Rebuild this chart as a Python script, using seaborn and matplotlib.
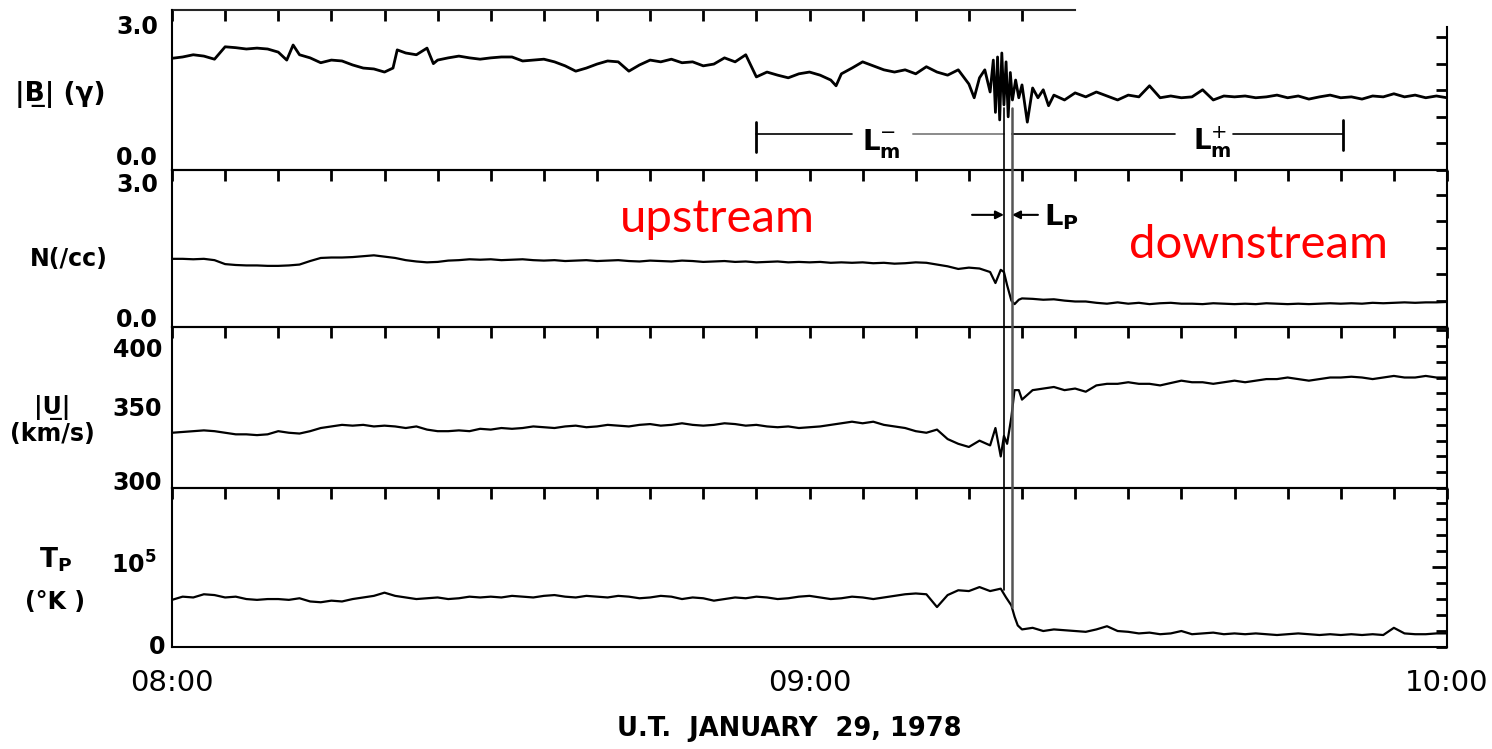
import matplotlib
matplotlib.use("Agg")
import matplotlib.pyplot as plt
import matplotlib.transforms as mtransforms
from matplotlib.lines import Line2D
from matplotlib.ticker import FuncFormatter, NullFormatter
import numpy as np
import seaborn as sns

sns.set_theme(style="white")
plt.rcParams["font.family"] = ["DejaVu Sans"]
plt.rcParams["mathtext.fontset"] = "dejavusans"
plt.rcParams["text.color"] = "black"
plt.rcParams["axes.labelcolor"] = "black"
plt.rcParams["xtick.color"] = "black"
plt.rcParams["ytick.color"] = "black"

# ---------------------------------------------------------------------------
# Solar-wind observations, 08:00-10:00 UT, 29 January 1978
# time is given in minutes after 08:00
# ---------------------------------------------------------------------------
b_time = [0, 1, 2, 3, 4, 5, 6, 7, 8, 9, 10, 10.8, 11.4, 12, 13, 14, 15, 16, 17, 18,
          19, 20, 20.8, 21.2, 22, 23, 24, 24.6, 25, 26, 27, 28, 29, 30, 31, 32, 33,
          34, 35, 36, 37, 38, 39, 40, 41, 42, 43, 44, 45, 46, 47, 48, 49, 50, 51,
          52, 53, 54, 55, 56, 57, 58, 59, 60, 61, 62, 62.5, 63, 64, 65, 66, 67, 68,
          69, 70, 71, 72, 73, 74, 75, 75.5, 76, 76.5, 77, 77.3, 77.5, 77.7, 77.9,
          78.1, 78.3, 78.5, 78.7, 78.9, 79.1, 79.4, 79.7, 80, 80.5, 81, 81.5, 82,
          82.5, 83, 84, 85, 86, 87, 88, 89, 90, 91, 92, 93, 94, 95, 96, 97, 98, 99,
          100, 101, 102, 103, 104, 105, 106, 107, 108, 109, 110, 111, 112, 113, 114,
          115, 116, 117, 118, 119, 120]
b_vals = [2.52, 2.55, 2.60, 2.57, 2.50, 2.78, 2.76, 2.73, 2.75, 2.73, 2.66, 2.48, 2.82,
          2.60, 2.53, 2.42, 2.48, 2.46, 2.37, 2.30, 2.28, 2.21, 2.30, 2.71, 2.64, 2.60,
          2.75, 2.40, 2.48, 2.53, 2.57, 2.53, 2.50, 2.53, 2.55, 2.55, 2.46, 2.48, 2.50,
          2.44, 2.35, 2.23, 2.30, 2.39, 2.46, 2.44, 2.23, 2.37, 2.48, 2.44, 2.50, 2.42,
          2.44, 2.35, 2.39, 2.53, 2.44, 2.60, 2.10, 2.21, 2.14, 2.08, 2.17, 2.21, 2.14,
          2.03, 1.90, 2.17, 2.30, 2.44, 2.35, 2.26, 2.21, 2.26, 2.17, 2.33, 2.21, 2.14,
          2.26, 1.94, 1.63, 2.08, 2.26, 1.76, 2.48, 1.30, 2.55, 1.13, 2.64, 1.47, 2.44,
          1.20, 2.20, 1.58, 2.03, 1.63, 1.92, 1.08, 1.85, 1.63, 1.81, 1.45, 1.69, 1.58,
          1.74, 1.65, 1.76, 1.67, 1.58, 1.69, 1.65, 1.90, 1.63, 1.67, 1.63, 1.65, 1.81,
          1.58, 1.67, 1.65, 1.67, 1.63, 1.65, 1.69, 1.63, 1.67, 1.60, 1.65, 1.69, 1.63,
          1.65, 1.60, 1.67, 1.65, 1.72, 1.65, 1.69, 1.63, 1.67, 1.63]

n_time = [0, 1, 2, 3, 4, 5, 6, 7, 8, 9, 10, 11, 12, 13, 14, 15, 16, 17, 18, 19, 20,
          21, 22, 23, 24, 25, 26, 27, 28, 29, 30, 31, 32, 33, 34, 35, 36, 37, 38, 39,
          40, 41, 42, 43, 44, 45, 46, 47, 48, 49, 50, 51, 52, 53, 54, 55, 56, 57, 58,
          59, 60, 61, 62, 63, 64, 65, 66, 67, 68, 69, 70, 71, 72, 73, 74, 75, 76, 77,
          77.5, 78, 78.3, 78.6, 79.0, 79.3, 79.7, 80, 81, 82, 83, 84, 85, 86, 87, 88,
          89, 90, 91, 92, 93, 94, 95, 96, 97, 98, 99, 100, 101, 102, 103, 104, 105,
          106, 107, 108, 109, 110, 111, 112, 113, 114, 115, 116, 117, 118, 119, 120]
n_vals = [1.55, 1.55, 1.54, 1.55, 1.52, 1.43, 1.41, 1.40, 1.40, 1.39, 1.39, 1.40, 1.42,
          1.50, 1.57, 1.58, 1.58, 1.59, 1.61, 1.63, 1.60, 1.57, 1.52, 1.49, 1.47, 1.48,
          1.51, 1.52, 1.54, 1.53, 1.54, 1.52, 1.53, 1.54, 1.52, 1.51, 1.52, 1.50, 1.51,
          1.52, 1.50, 1.51, 1.52, 1.50, 1.49, 1.51, 1.50, 1.49, 1.51, 1.50, 1.48, 1.49,
          1.50, 1.48, 1.49, 1.47, 1.48, 1.49, 1.47, 1.48, 1.47, 1.48, 1.46, 1.47, 1.46,
          1.47, 1.45, 1.46, 1.44, 1.45, 1.47, 1.46, 1.42, 1.38, 1.32, 1.35, 1.33, 1.25,
          1.00, 1.30, 1.25, 0.95, 0.60, 0.52, 0.62, 0.65, 0.64, 0.62, 0.63, 0.60, 0.58,
          0.58, 0.55, 0.53, 0.56, 0.53, 0.55, 0.52, 0.54, 0.55, 0.53, 0.53, 0.52, 0.54,
          0.53, 0.52, 0.53, 0.52, 0.54, 0.53, 0.52, 0.53, 0.52, 0.53, 0.54, 0.53, 0.54,
          0.53, 0.55, 0.54, 0.55, 0.56, 0.55, 0.56, 0.56, 0.57]

u_time = n_time
u_vals = [335, 335.5, 336, 336.5, 336, 335, 334, 334, 333.5, 334, 336, 335, 334.5,
          336, 338, 339, 340, 339.5, 340, 339, 339.5, 339, 338, 339, 337, 336, 336,
          336.5, 336, 337.5, 337, 338, 337.5, 338, 339, 338.5, 338, 339, 339.5, 338.5,
          339, 340, 339.5, 339, 340, 340.5, 339.5, 340, 341, 340, 339.5, 340, 341,
          340.5, 339.5, 340, 339, 338.5, 339, 338, 338.5, 339, 340, 341, 342, 341, 342,
          340, 339, 338, 336, 335, 337, 331, 328, 326, 330, 327, 338, 320, 333, 328,
          345, 362, 362, 356, 362, 363, 364, 362, 363, 361, 365, 366, 366, 367, 366,
          366, 365, 366.5, 368, 367, 367, 366, 367, 368, 367, 368, 369, 369, 370, 369,
          368, 369, 370, 370, 370.5, 370, 369, 370, 371, 370, 370, 371, 370, 370]

t_time = [0, 1, 2, 3, 4, 5, 6, 7, 8, 9, 10, 11, 12, 13, 14, 15, 16, 17, 18, 19, 20,
          21, 22, 23, 24, 25, 26, 27, 28, 29, 30, 31, 32, 33, 34, 35, 36, 37, 38, 39,
          40, 41, 42, 43, 44, 45, 46, 47, 48, 49, 50, 51, 52, 53, 54, 55, 56, 57, 58,
          59, 60, 61, 62, 63, 64, 65, 66, 67, 68, 69, 70, 71, 72, 73, 74, 75, 76, 77,
          78, 78.5, 79, 79.3, 79.6, 80, 81, 82, 83, 84, 85, 86, 87, 88, 89, 90, 91, 92,
          93, 94, 95, 96, 97, 98, 99, 100, 101, 102, 103, 104, 105, 106, 107, 108,
          109, 110, 111, 112, 113, 114, 115, 116, 117, 118, 119, 120]
t_vals = [59000, 63000, 62000, 66000, 65000, 62000, 63000, 60000, 59000, 60000, 60000,
          59000, 61000, 57000, 56000, 58000, 57000, 60000, 62000, 64000, 68000, 64000,
          62000, 60000, 61000, 62000, 60000, 61000, 63000, 62000, 63000, 62000, 64000,
          63000, 62000, 64000, 65000, 63000, 62000, 64000, 63000, 62000, 64000, 63000,
          61000, 62000, 64000, 63000, 60000, 62000, 61000, 58000, 60000, 62000, 61000,
          63000, 62000, 60000, 61000, 63000, 64000, 62000, 60000, 61000, 63000, 62000,
          60000, 62000, 64000, 66000, 67000, 66000, 50000, 65000, 71000, 70000, 75000,
          70000, 73000, 62000, 52000, 38000, 27000, 22000, 24000, 20000, 22000, 21000,
          20000, 19000, 22000, 26000, 20000, 19000, 17000, 18000, 16000, 17000, 20000,
          16000, 17000, 18000, 16000, 17000, 16000, 17000, 16000, 15000, 16000, 17000,
          16000, 15000, 16000, 15000, 16000, 15000, 16000, 15000, 24000, 17000, 16000,
          16000, 17000, 17000]

# shock boundaries and scale-length markers (minutes after 08:00)
shock_start = 78.3
shock_end = 79.06
lm_minus_start = 55.0
lm_plus_end = 110.2

# ---------------------------------------------------------------------------
W, H = 1492, 749
fig = plt.figure(figsize=(W / 100, H / 100), dpi=100)


def panel(top_px, bottom_px):
    return fig.add_axes([172 / W, 1 - bottom_px / H, 1275 / W, (bottom_px - top_px) / H])


ax1 = panel(10, 170)
ax2 = panel(170, 327)
ax3 = panel(327, 488)
ax4 = panel(488, 647)
axes = [ax1, ax2, ax3, ax4]

sns.lineplot(x=b_time, y=b_vals, ax=ax1, color="black", linewidth=2.0, sort=False, estimator=None)
sns.lineplot(x=n_time, y=n_vals, ax=ax2, color="black", linewidth=1.6, sort=False, estimator=None)
sns.lineplot(x=u_time, y=u_vals, ax=ax3, color="black", linewidth=1.6, sort=False, estimator=None)
sns.lineplot(x=t_time, y=t_vals, ax=ax4, color="black", linewidth=1.6, sort=False, estimator=None)

ax1.set_ylim(0, 3.61)
ax2.set_ylim(0, 3.57)
ax3.set_ylim(300, 402)
ax4.set_ylim(0, 199000)

for ax in axes:
    ax.set_xlim(0, 120)
    ax.set_xticks(range(0, 121, 5))
    ax.set_xlabel("")
    ax.set_ylabel("")
    ax.tick_params(axis="both", which="both", direction="in", top=True, right=True,
                   length=8, width=2, color="black", labelleft=False, labelbottom=False)
    for sp in ax.spines.values():
        sp.set_linewidth(1.5)
        sp.set_color("black")
    ax.set_facecolor("none")

ax1.set_yticks(np.arange(0, 3.01, 0.6))
ax2.set_yticks(np.arange(0, 3.01, 0.6))
ax3.set_yticks(range(300, 401, 10))
ax4.set_yticks([100000])
ax4.set_yticks(range(0, 190001, 20000), minor=True)
ax4.tick_params(axis="y", which="major", length=11)
ax4.tick_params(axis="y", which="minor", length=8)

# top frame of the first panel only runs part of the way across
ax1.tick_params(top=False)
ax1.spines["top"].set_visible(False)
ax1.spines["right"].set_bounds(0, 3.23)
sec = ax1.secondary_xaxis("top")
sec.set_xticks(range(0, 81, 5))
sec.xaxis.set_major_formatter(NullFormatter())
sec.tick_params(direction="in", length=8, width=2, color="black")
sec.spines["top"].set_linewidth(1.5)
sec.spines["top"].set_bounds(0, 85)

# time labels
time_names = {0: "08:00", 60: "09:00", 120: "10:00"}
ax4.xaxis.set_major_formatter(FuncFormatter(lambda v, p: time_names.get(int(round(v)), "")))
ax4.tick_params(axis="x", labelbottom=True, labelsize=21, pad=16, labelcolor="black")


def ylab(ax, y, s, dx_px, dy_px, size=17):
    tr = mtransforms.blended_transform_factory(ax.transAxes, ax.transData)
    tr = tr + mtransforms.ScaledTranslation(dx_px / 100, dy_px / 100, fig.dpi_scale_trans)
    ax.text(0, y, s, transform=tr, ha="right", va="center", fontsize=size,
            fontweight="bold", color="black")


ylab(ax1, 3.0, "3.0", -14, 10)
ylab(ax1, 0.0, "0.0", -14, 12)
ylab(ax2, 3.0, "3.0", -14, 10)
ylab(ax2, 0.0, "0.0", -14, 7)
ylab(ax3, 400, "400", -10, -20)
ylab(ax3, 350, "350", -10, 0)
ylab(ax3, 300, "300", -10, 5)
ylab(ax4, 100000, r"$\mathbf{10^5}$", -16, 2)
ylab(ax4, 0, "0", -7, 0)


def ftext(xpx, ypx, s, **kw):
    fig.text(xpx / W, 1 - ypx / H, s, ha="center", va="center", color="black", **kw)


ftext(60, 95, "|B\u0332| (\u03b3)", fontsize=19, fontweight="bold")
ftext(69, 259, "N(/cc)", fontsize=17, fontweight="bold")
ftext(52, 407, "|U\u0332|", fontsize=17, fontweight="bold")
ftext(52, 434, "(km/s)", fontsize=17, fontweight="bold")
ftext(56, 560, r"$\mathbf{T_P}$", fontsize=19)
ftext(55, 602, "(\u00b0K )", fontsize=17, fontweight="bold")
ftext(789, 729, "U.T.  JANUARY  29, 1978", fontsize=18.5, fontweight="bold")

# shock boundaries spanning the panels
vtr = mtransforms.blended_transform_factory(ax1.transData, fig.transFigure)
fig.add_artist(Line2D([shock_start, shock_start], [1 - 108 / H, 1 - 590 / H],
                      transform=vtr, color="black", lw=1.2))
fig.add_artist(Line2D([shock_end, shock_end], [1 - 108 / H, 1 - 607 / H],
                      transform=vtr, color="#555555", lw=1.8))

# L_m- and L_m+ extents
ax1.plot([lm_minus_start, 64.0], [0.81, 0.81], color="black", lw=1.2)
ax1.plot([69.7, shock_start], [0.81, 0.81], color="#8a8a8a", lw=1.4)
ax1.plot([lm_minus_start, lm_minus_start], [0.41, 1.08], color="black", lw=2)
ax1.text(66.8, 0.45, r"$\mathbf{L}_{\mathbf{m}}^{-}$", fontsize=20, ha="center", va="baseline")
ax1.plot([shock_end, 94.4], [0.81, 0.81], color="black", lw=1.2)
ax1.plot([99.9, lm_plus_end], [0.81, 0.81], color="black", lw=1.2)
ax1.plot([lm_plus_end, lm_plus_end], [0.45, 1.13], color="black", lw=2)
ax1.text(97.9, 0.45, r"$\mathbf{L}_{\mathbf{m}}^{+}$", fontsize=20, ha="center", va="baseline")

# L_p arrows
ax2.annotate("", xy=(shock_start, 2.55), xytext=(75.3, 2.55),
             arrowprops=dict(arrowstyle="-|>", lw=1.5, color="black", mutation_scale=12,
                             shrinkA=0, shrinkB=0))
ax2.annotate("", xy=(shock_end, 2.55), xytext=(81.5, 2.55),
             arrowprops=dict(arrowstyle="-|>", lw=1.5, color="black", mutation_scale=12,
                             shrinkA=0, shrinkB=0))
ax2.text(82.1, 2.32, r"$\mathbf{L}_{\mathbf{P}}$", fontsize=21, ha="left", va="baseline")

# region labels
ax2.text(51.3, 2.16, "upstream", color="#ff0000", fontsize=34, family="Lato",
         ha="center", va="baseline")
ax2.text(102.3, 1.57, "downstream", color="#ff0000", fontsize=34, family="Lato",
         ha="center", va="baseline")

fig.savefig("out.png", dpi=100, facecolor="white")
